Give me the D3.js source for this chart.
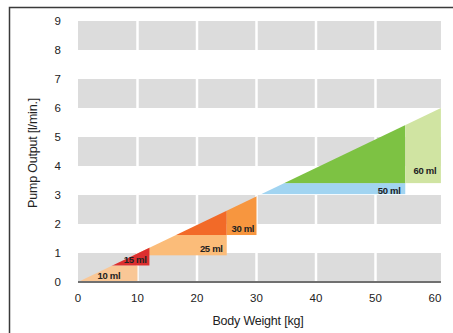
<!DOCTYPE html>
<html>
<head>
<meta charset="utf-8">
<script src="https://cdn.jsdelivr.net/npm/d3@7"></script>
<style>
  html, body { margin: 0; padding: 0; background: #ffffff; }
  svg { display: block; }
  text { font-family: "Liberation Sans", Arial, Helvetica, sans-serif; }
</style>
</head>
<body>
<svg id="chart" width="453" height="333"></svg>
<script>
// ---- data ----
const xTicks = [0, 10, 20, 30, 40, 50, 60];
const yTicks = [0, 1, 2, 3, 4, 5, 6, 7, 8, 9];
const bandRows = [[0, 1], [2, 3], [4, 5], [6, 7], [8, 9]];
const bandCols = [[0, 10], [10, 20], [20, 30], [30, 40], [40, 50], [50, 61]];
const lineEnd = [61, 6.0]; // diagonal from (0,0) to this point
const regionX0 = [0, 0, 0, 0, 25, 30, 0, 55];
const regionX1 = [10, 25, 12, 25, 30, 55, 55, 61];
const regionY0 = [0, 0.92, 0.57, 1.62, 1.62, 3.03, 3.41, 3.41];
const regionY1 = [0.57, 1.62, 1.35, 3.2, 3.2, 3.41, 6.2, 6.2];
const regionColors = ["#f9c796", "#fbbc79", "#dc2f2f", "#f26a28", "#f7963f", "#a1d4f1", "#7dc243", "#d0e4a2"];
const labels = ["10 ml", "15 ml", "25 ml", "30 ml", "50 ml", "60 ml"];
const labelX = [5.2, 9.6, 22.4, 27.7, 52.3, 58.3];
const labelY = [0.12, 0.64, 1.05, 1.74, 3.03, 3.74];

// ---- layout ----
const svg = d3.select("#chart");
const x = d3.scaleLinear().domain([0, 60]).range([78, 435]);
const y = d3.scaleLinear().domain([0, 9]).range([282, 21]);

// frame
svg.append("path")
  .attr("d", "M9.5,333 L9.5,7.5 L453,7.5")
  .attr("fill", "none").attr("stroke", "#3a3a3a").attr("stroke-width", 1.5);

// grey bands
const g = svg.append("g");
bandRows.forEach(r => {
  bandCols.forEach((c, i) => {
    const gl = i === 0 ? 0 : 1.25;
    const gr = i === bandCols.length - 1 ? 0 : 1.25;
    g.append("rect")
      .attr("x", x(c[0]) + gl)
      .attr("y", y(r[1]))
      .attr("width", x(c[1]) - x(c[0]) - gl - gr)
      .attr("height", y(r[0]) - y(r[1]))
      .attr("fill", "#dcdcdc");
  });
});

// clip under the line
svg.append("clipPath").attr("id", "under")
  .append("path")
  .attr("d", d3.line()([[x(0), y(0)], [x(lineEnd[0]), y(lineEnd[1])], [x(lineEnd[0]), y(0)]]));

const rg = svg.append("g").attr("clip-path", "url(#under)");
regionX0.forEach((x0, i) => {
  rg.append("rect")
    .attr("x", x(x0))
    .attr("y", y(regionY1[i]))
    .attr("width", x(regionX1[i]) - x(x0))
    .attr("height", y(regionY0[i]) - y(regionY1[i]))
    .attr("fill", regionColors[i]);
});

// bottom axis line
svg.append("line")
  .attr("x1", x(0)).attr("x2", x(lineEnd[0]))
  .attr("y1", y(0)).attr("y2", y(0))
  .attr("stroke", "#707070").attr("stroke-width", 2);

// region labels
labels.forEach((t, i) => {
  svg.append("text")
    .attr("x", x(labelX[i]))
    .attr("y", y(labelY[i]))
    .attr("text-anchor", "middle")
    .attr("font-size", 9.5).attr("font-weight", "bold")
    .attr("letter-spacing", -0.3)
    .attr("fill", "#222")
    .text(t);
});

// y tick labels
svg.append("g").selectAll("text").data(yTicks).join("text")
  .attr("x", 61)
  .attr("y", d => y(d) + 4)
  .attr("text-anchor", "end")
  .attr("font-size", 11.5)
  .attr("fill", "#222")
  .text(d => d);

// x tick labels
svg.append("g").selectAll("text").data(xTicks).join("text")
  .attr("x", d => x(d))
  .attr("y", 302)
  .attr("text-anchor", "middle")
  .attr("font-size", 11.5)
  .attr("fill", "#222")
  .text(d => d);

// axis titles
svg.append("text")
  .attr("x", 258).attr("y", 325)
  .attr("text-anchor", "middle")
  .attr("font-size", 12.5)
  .attr("letter-spacing", -0.2)
  .attr("fill", "#222")
  .text("Body Weight [kg]");

svg.append("text")
  .attr("transform", "translate(37,153) rotate(-90)")
  .attr("text-anchor", "middle")
  .attr("font-size", 12.5)
  .attr("letter-spacing", -0.2)
  .attr("fill", "#222")
  .text("Pump Output [l/min.]");
</script>
</body>
</html>
